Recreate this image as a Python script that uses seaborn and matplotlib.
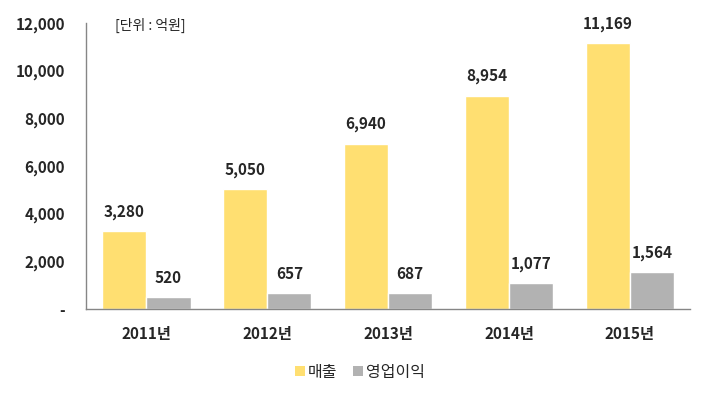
import pandas as pd
import numpy as np
import matplotlib
matplotlib.use("Agg")
import matplotlib.pyplot as plt
import seaborn as sns
from matplotlib.patches import Patch

years = ["2011년", "2012년", "2013년", "2014년", "2015년"]
sales = [3280, 5050, 6940, 8954, 11169]
profit = [520, 657, 687, 1077, 1564]
series = ["매출", "영업이익"]
yticks = [0, 2000, 4000, 6000, 8000, 10000, 12000]
ytick_labels = ["-", "2,000", "4,000", "6,000", "8,000", "10,000", "12,000"]

sns.set_style("white")
plt.rcParams['font.family'] = ['Noto Sans CJK KR', 'DejaVu Sans']

df = pd.DataFrame({
    "year": years * 2,
    "value": sales + profit,
    "series": [series[0]] * len(years) + [series[1]] * len(years),
})

fig = plt.figure(figsize=(7.03, 3.93), dpi=100)
ax = fig.add_axes([0.1223, 0.2137, 0.8597, 0.7278])

colors = ["#FFDF71", "#B2B2B2"]
sns.barplot(data=df, x="year", y="value", hue="series", palette=colors,
            width=0.73, saturation=1, ax=ax, legend=False)

for cont in ax.containers:
    for bar in cont:
        h = bar.get_height()
        ax.annotate(f"{h:,.0f}", (bar.get_x() + bar.get_width() / 2, h),
                    xytext=(0, 8), textcoords="offset points",
                    ha="center", va="bottom", fontsize=11, fontweight="bold")

ax.set_ylim(0, 12000)
ax.set_xlim(-0.5, len(years) - 0.5)
ax.set_yticks(yticks)
ax.set_yticklabels(ytick_labels, fontsize=11, fontweight="bold")
ax.set_xticks(range(len(years)))
ax.set_xticklabels(years, fontsize=11, fontweight="bold")
ax.tick_params(axis="y", length=0, pad=15)
ax.tick_params(axis="x", length=0, pad=12)
ax.set_xlabel("")
ax.set_ylabel("")

for s in ["top", "right"]:
    ax.spines[s].set_visible(False)
for s in ["left", "bottom"]:
    ax.spines[s].set_color("#868686")
    ax.spines[s].set_linewidth(1)

ax.text(0.048, 0.99, "[단위 : 억원]", transform=ax.transAxes, fontsize=10,
        fontweight="medium", ha="left", va="center")

# legend
handles = [Patch(facecolor=c, edgecolor="none") for c in colors]
fig.legend(handles, series, loc="center", bbox_to_anchor=(0.512, 0.053),
           ncol=2, frameon=False, fontsize=11.5, handlelength=0.6,
           handleheight=0.6, handletextpad=0.2, columnspacing=1.0)

fig.savefig("out.png", dpi=100)
